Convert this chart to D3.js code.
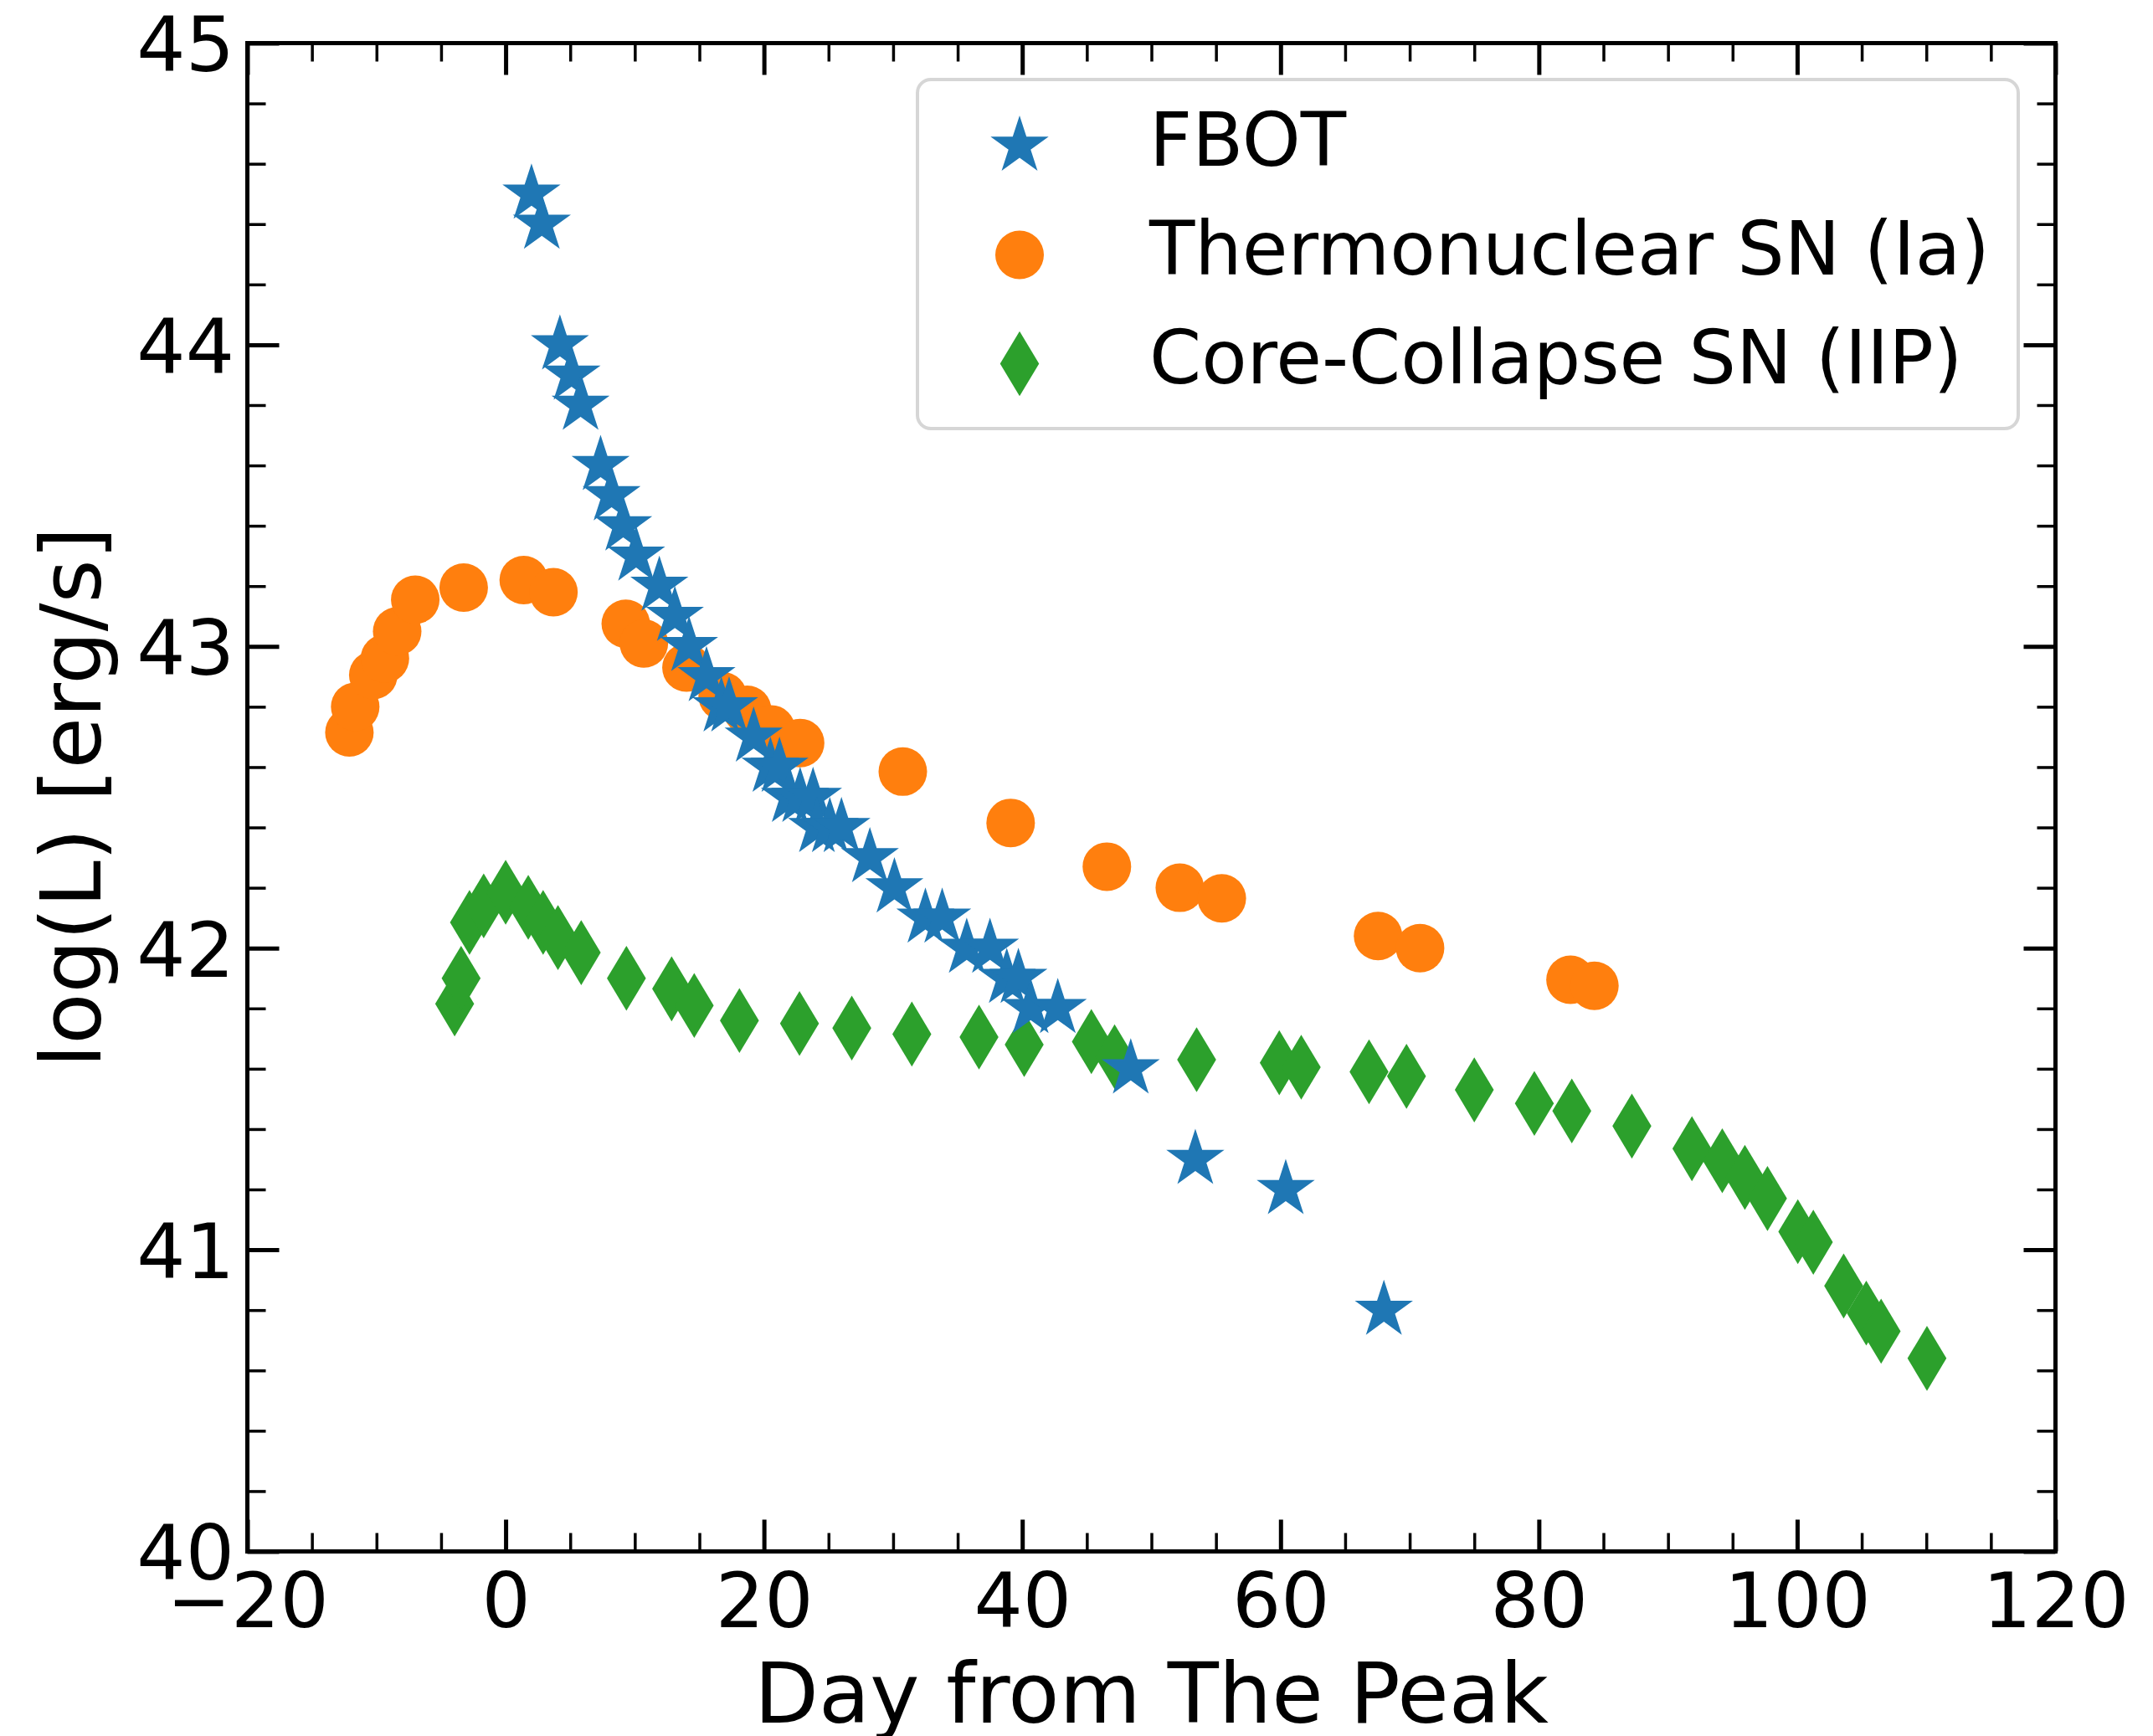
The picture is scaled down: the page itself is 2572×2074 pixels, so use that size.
<!DOCTYPE html>
<html>
<head>
<meta charset="utf-8">
<script src="https://cdn.jsdelivr.net/npm/d3@7"></script>
<style>
  html, body { margin: 0; padding: 0; background: #ffffff; }
  svg { display: block; }
  text { font-family: "DejaVu Sans", sans-serif; fill: #000000; }
</style>
</head>
<body>
<svg id="chart" width="2572" height="2074"></svg>
<script>
// Light curves: days from peak and log10 luminosity [erg/s]
const fbotDay = [2.0, 2.8, 4.2, 5.1, 5.8, 7.35, 8.2, 9.1, 10.1, 11.9, 13.1, 14.2, 15.55, 16.7, 17.3,
  19.2, 20.5, 21.2, 22.0, 22.8, 23.8, 24.1, 25.1, 26.0, 28.2, 30.1, 32.5, 33.8, 35.7, 37.5,
  38.8, 39.7, 40.65, 42.75, 48.4, 53.4, 60.4, 68.0];
const fbotLogL = [44.5, 44.4, 44.0, 43.9, 43.8, 43.6, 43.5, 43.4, 43.3, 43.2, 43.1, 43.0, 42.9, 42.8, 42.8,
  42.7, 42.6, 42.6, 42.5, 42.5, 42.5, 42.4, 42.4, 42.4, 42.3, 42.2, 42.1, 42.1, 42.0, 42.0,
  41.9, 41.9, 41.8, 41.8, 41.6, 41.3, 41.2, 40.8];

const iaDay = [-12.1, -11.65, -10.25, -9.35, -8.4, -7.0, -3.25, 1.4, 3.7, 9.3, 10.7, 14.0, 16.8, 18.7,
  20.55, 22.8, 30.75, 39.1, 46.55, 52.2, 55.45, 67.55, 70.8, 82.45, 84.3];
const iaLogL = [42.715, 42.8, 42.905, 42.96, 43.05, 43.155, 43.195, 43.22, 43.18, 43.075, 43.01, 42.93,
  42.835, 42.79, 42.725, 42.68, 42.585, 42.415, 42.27, 42.2, 42.165, 42.04, 42.0, 41.895, 41.875];

const iipDay = [-3.95, -3.45, -2.8, -1.7, 0.0, 1.75, 2.9, 4.05, 5.85, 9.35, 12.85, 14.6, 18.1, 22.75,
  26.8, 31.45, 36.65, 40.15, 45.35, 47.15, 53.5, 59.9, 61.6, 66.85, 69.75, 75.0, 79.65, 82.55,
  87.2, 91.85, 94.2, 95.95, 97.7, 100.05, 101.25, 103.6, 105.35, 106.5, 110.05];
const iipLogL = [41.815, 41.9, 42.085, 42.14, 42.185, 42.135, 42.085, 42.035, 41.985, 41.9, 41.865,
  41.81, 41.76, 41.75, 41.735, 41.715, 41.705, 41.68, 41.69, 41.64, 41.63, 41.62, 41.605, 41.59,
  41.575, 41.53, 41.485, 41.46, 41.41, 41.335, 41.295, 41.24, 41.17, 41.06, 41.025, 40.88, 40.79,
  40.73, 40.64];

const seriesNames = ["FBOT", "Thermonuclear SN (Ia)", "Core-Collapse SN (IIP)"];
const xMajorTicks = [-20, 0, 20, 40, 60, 80, 100, 120];
const yMajorTicks = [40, 41, 42, 43, 44, 45];
const xLabel = "Day from The Peak";
const yLabel = "log(L) [erg/s]";

// ---- layout ----
const plotLeft = 295.5, plotRight = 2455.5, plotTop = 51.5, plotBottom = 1853.5;
const FONT_TICK = 91.7, FONT_LABEL = 100, FONT_LEGEND = 89;

const x = d3.scaleLinear().domain([-20, 120]).range([plotLeft, plotRight]);
const y = d3.scaleLinear().domain([40, 45]).range([plotBottom, plotTop]);

const svg = d3.select("#chart");

// marker shapes; the symbol "size" is used as the outer radius in pixels
const starShape = {
  draw(ctx, r) {
    const ri = r * 0.381966;
    for (let i = 0; i < 10; i++) {
      const rad = i % 2 ? ri : r;
      const a = -Math.PI / 2 + i * Math.PI / 5;
      const px = rad * Math.cos(a), py = rad * Math.sin(a);
      if (i === 0) ctx.moveTo(px, py); else ctx.lineTo(px, py);
    }
    ctx.closePath();
  }
};
const circleShape = {
  draw(ctx, r) { ctx.moveTo(r, 0); ctx.arc(0, 0, r, 0, 2 * Math.PI); ctx.closePath(); }
};
const thinDiamondShape = {
  draw(ctx, r) {
    const w = r * 0.6;
    ctx.moveTo(0, -r); ctx.lineTo(w, 0); ctx.lineTo(0, r); ctx.lineTo(-w, 0); ctx.closePath();
  }
};

const series = [
  { name: seriesNames[2], xs: iipDay, ys: iipLogL, shape: thinDiamondShape, r: 38.8, color: "#2ca02c" },
  { name: seriesNames[1], xs: iaDay, ys: iaLogL, shape: circleShape, r: 29, color: "#ff7f0e" },
  { name: seriesNames[0], xs: fbotDay, ys: fbotLogL, shape: starShape, r: 36.5, color: "#1f77b4" }
];

// ---- scatter points ----
const plot = svg.append("g").attr("class", "points");
series.forEach(s => {
  const sym = d3.symbol().type(s.shape).size(s.r);
  plot.append("g")
    .selectAll("path")
    .data(s.xs.map((d, i) => [d, s.ys[i]]))
    .join("path")
    .attr("transform", d => `translate(${x(d[0])},${y(d[1])})`)
    .attr("d", sym)
    .attr("fill", s.color);
});

// ---- axes with inward ticks on all four sides ----
const xMinor = d3.range(-20, 120.001, 5).filter(v => !xMajorTicks.includes(v));
const yMinor = d3.range(40, 45.001, 0.2).map(v => +v.toFixed(1)).filter(v => !yMajorTicks.includes(v));
const MAJ = 38, MIN = 22;

function styleTicks(g, width) {
  g.select(".domain").remove();
  g.selectAll(".tick line").attr("stroke", "#000").attr("stroke-width", width);
}

const fmt = d3.format("d");

// bottom
const gb = svg.append("g").attr("transform", `translate(0,${plotBottom})`)
  .call(d3.axisBottom(x).tickValues(xMajorTicks).tickSize(-MAJ).tickSizeOuter(0).tickFormat(fmt));
styleTicks(gb, 5);
gb.selectAll(".tick text").attr("y", 90.5).attr("dy", null)
  .attr("font-size", FONT_TICK).attr("font-family", "DejaVu Sans").attr("fill", "#000");
gb.attr("font-size", null).attr("font-family", null);
const gbm = svg.append("g").attr("transform", `translate(0,${plotBottom})`)
  .call(d3.axisBottom(x).tickValues(xMinor).tickSize(-MIN).tickSizeOuter(0).tickFormat(""));
styleTicks(gbm, 3.5);

// top
const gt = svg.append("g").attr("transform", `translate(0,${plotTop})`)
  .call(d3.axisTop(x).tickValues(xMajorTicks).tickSize(-MAJ).tickSizeOuter(0).tickFormat(""));
styleTicks(gt, 5);
const gtm = svg.append("g").attr("transform", `translate(0,${plotTop})`)
  .call(d3.axisTop(x).tickValues(xMinor).tickSize(-MIN).tickSizeOuter(0).tickFormat(""));
styleTicks(gtm, 3.5);

// left
const gl = svg.append("g").attr("transform", `translate(${plotLeft},0)`)
  .call(d3.axisLeft(y).tickValues(yMajorTicks).tickSize(-MAJ).tickSizeOuter(0).tickFormat(fmt));
styleTicks(gl, 5);
gl.selectAll(".tick text").attr("x", -15.5).attr("dy", null).attr("y", 33.4)
  .attr("text-anchor", "end")
  .attr("font-size", FONT_TICK).attr("font-family", "DejaVu Sans").attr("fill", "#000");
gl.attr("font-size", null).attr("font-family", null);
const glm = svg.append("g").attr("transform", `translate(${plotLeft},0)`)
  .call(d3.axisLeft(y).tickValues(yMinor).tickSize(-MIN).tickSizeOuter(0).tickFormat(""));
styleTicks(glm, 3.5);

// right
const gr = svg.append("g").attr("transform", `translate(${plotRight},0)`)
  .call(d3.axisRight(y).tickValues(yMajorTicks).tickSize(-MAJ).tickSizeOuter(0).tickFormat(""));
styleTicks(gr, 5);
const grm = svg.append("g").attr("transform", `translate(${plotRight},0)`)
  .call(d3.axisRight(y).tickValues(yMinor).tickSize(-MIN).tickSizeOuter(0).tickFormat(""));
styleTicks(grm, 3.5);

// frame
svg.append("rect")
  .attr("x", plotLeft).attr("y", plotTop)
  .attr("width", plotRight - plotLeft).attr("height", plotBottom - plotTop)
  .attr("fill", "none").attr("stroke", "#000").attr("stroke-width", 5);

// axis titles
svg.append("text")
  .attr("x", (plotLeft + plotRight) / 2).attr("y", 2058)
  .attr("text-anchor", "middle").attr("font-size", FONT_LABEL)
  .text(xLabel);

svg.append("text")
  .attr("transform", `translate(120,${(plotTop + plotBottom) / 2}) rotate(-90)`)
  .attr("text-anchor", "middle").attr("font-size", FONT_LABEL)
  .text(yLabel);

// ---- legend ----
const legend = svg.append("g").attr("class", "legend");
legend.append("rect")
  .attr("x", 1096).attr("y", 95).attr("width", 2411 - 1096).attr("height", 512 - 95)
  .attr("rx", 16).attr("ry", 16)
  .attr("fill", "#ffffff").attr("fill-opacity", 0.8)
  .attr("stroke", "#cccccc").attr("stroke-opacity", 0.8).attr("stroke-width", 4);

const legendOrder = [series[2], series[1], series[0]];
legendOrder.forEach((s, i) => {
  const base = 198 + i * 130;
  legend.append("path")
    .attr("transform", `translate(1218,${base - 23.5})`)
    .attr("d", d3.symbol().type(s.shape).size(s.r))
    .attr("fill", s.color);
  legend.append("text")
    .attr("x", 1373).attr("y", base)
    .attr("font-size", FONT_LEGEND)
    .text(s.name);
});
</script>
</body>
</html>
